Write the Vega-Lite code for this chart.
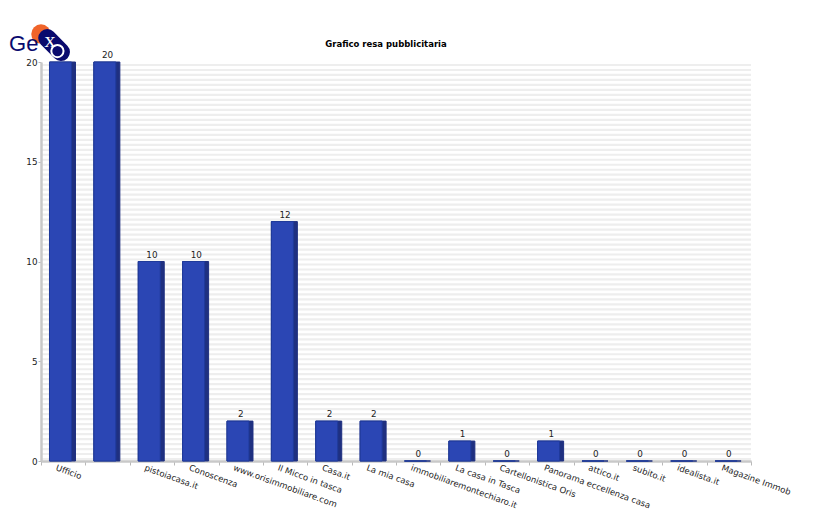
{
"$schema":"https://vega.github.io/schema/vega-lite/v6.json",
"width":710,"height":399,
"autosize":"none",
"padding":{"left":41,"top":62,"right":80,"bottom":64},
"background":"white",
"config":{"view":{"stroke":null},"font":"DejaVu Sans"},
"title":{"text":"Grafico resa pubblicitaria","font":"DejaVu Sans","fontSize":8.5,"fontWeight":"bold","color":"#000000","anchor":"middle","dx":-10,"offset":-46},
"datasets":{
"rows":[
{"source":"Ufficio","value":20},{"source":" ","value":20},{"source":"pistoiacasa.it","value":10},{"source":"Conoscenza","value":10},{"source":"www.orisimmobiliare.com","value":2},{"source":"Il Micco in tasca","value":12},{"source":"Casa.it","value":2},{"source":"La mia casa","value":2},{"source":"immobiliaremontechiaro.it","value":0},{"source":"La casa in Tasca","value":1},{"source":"Cartellonistica Oris","value":0},{"source":"Panorama eccellenza casa","value":1},{"source":"attico.it","value":0},{"source":"subito.it","value":0},{"source":"idealista.it","value":0},{"source":"Magazine Immob","value":0}],
"stripes":[{"s":0.1},{"s":0.35},{"s":0.6},{"s":0.85},{"s":1.1},{"s":1.35},{"s":1.6},{"s":1.85},{"s":2.1},{"s":2.35},{"s":2.6},{"s":2.85},{"s":3.1},{"s":3.35},{"s":3.6},{"s":3.85},{"s":4.1},{"s":4.35},{"s":4.6},{"s":4.85},{"s":5.1},{"s":5.35},{"s":5.6},{"s":5.85},{"s":6.1},{"s":6.35},{"s":6.6},{"s":6.85},{"s":7.1},{"s":7.35},{"s":7.6},{"s":7.85},{"s":8.1},{"s":8.35},{"s":8.6},{"s":8.85},{"s":9.1},{"s":9.35},{"s":9.6},{"s":9.85},{"s":10.1},{"s":10.35},{"s":10.6},{"s":10.85},{"s":11.1},{"s":11.35},{"s":11.6},{"s":11.85},{"s":12.1},{"s":12.35},{"s":12.6},{"s":12.85},{"s":13.1},{"s":13.35},{"s":13.6},{"s":13.85},{"s":14.1},{"s":14.35},{"s":14.6},{"s":14.85},{"s":15.1},{"s":15.35},{"s":15.6},{"s":15.85},{"s":16.1},{"s":16.35},{"s":16.6},{"s":16.85},{"s":17.1},{"s":17.35},{"s":17.6},{"s":17.85},{"s":18.1},{"s":18.35},{"s":18.6},{"s":18.85},{"s":19.1},{"s":19.35},{"s":19.6},{"s":19.85}],
"logoLine":[{"u":0.14,"h":21.2},{"u":0.45,"h":20.5}]
},
"resolve":{"scale":{"x":"independent","y":"independent"},"axis":{"x":"independent","y":"independent"}},
"layer":[
{"layer":[
{"data":{"name":"stripes"},"mark":{"type":"rule","color":"#eeeeee","strokeWidth":2.2},
 "encoding":{"y":{"field":"s","type":"quantitative","scale":{"domain":[0,20],"nice":false},"axis":{"title":null}}}},
{"data":{"name":"rows"},"mark":{"type":"bar","size":26,"color":"#1f3080","xOffset":-0.7,"stroke":"#1f3080","strokeWidth":1},
 "encoding":{
  "x":{"field":"source","type":"nominal","sort":null,"scale":{"paddingInner":0,"paddingOuter":0},
   "axis":{"title":null,"labelAngle":20,"labelAlign":"left","labelBaseline":"top","labelOffset":-6,"labelPadding":-2,"labelFontSize":8.5,"labelColor":"#222222","labelFont":"DejaVu Sans","labelLimit":300,"labelOverlap":false,"domainColor":"#c8c8c8","domainWidth":2.5,"tickColor":"#b8b8b8","tickSize":4,"tickBand":"extent","grid":false}},
  "y":{"field":"value","type":"quantitative","axis":{"title":null,"values":[0,5,10,15,20],"orient":"left","zindex":1,"labelFontSize":8.8,"labelColor":"#222222","labelFont":"DejaVu Sans","labelPadding":1,"domainColor":"#c8c8c8","domainWidth":2.5,"tickColor":"#b8b8b8","tickSize":3,"grid":false}}}},
{"data":{"name":"rows"},"mark":{"type":"bar","size":22,"color":"#2b46b4","xOffset":-2.7,"stroke":"#1f3a9a","strokeWidth":1},
 "encoding":{"x":{"field":"source","type":"nominal","sort":null},"y":{"field":"value","type":"quantitative","axis":{"title":null}}}},
{"data":{"name":"rows"},"mark":{"type":"text","dy":-7,"fontSize":8.8,"color":"#222222","font":"DejaVu Sans"},
 "encoding":{"x":{"field":"source","type":"nominal","sort":null},"y":{"field":"value","type":"quantitative","axis":{"title":null}},"text":{"field":"value","type":"quantitative"}}}
]},
{"layer":[
{"data":{"values":[{"u":0,"h":21.4}]},"mark":{"type":"point","filled":true,"size":380,"color":"#f0642a","opacity":1,"clip":false},
 "encoding":{"x":{"field":"u","type":"quantitative","scale":{"domain":[0,16],"nice":false,"zero":false},"axis":null},"y":{"field":"h","type":"quantitative","scale":{"domain":[0,20],"nice":false},"axis":null}}},
{"data":{"name":"logoLine"},"mark":{"type":"line","color":"#0a0a6e","strokeWidth":18,"strokeCap":"round","clip":false},
 "encoding":{"x":{"field":"u","type":"quantitative","axis":null},"y":{"field":"h","type":"quantitative","axis":null}}},
{"data":{"values":[{"u":0.37,"h":20.55}]},"mark":{"type":"point","filled":false,"size":150,"color":"#ffffff","strokeWidth":2,"opacity":1,"clip":false},
 "encoding":{"x":{"field":"u","type":"quantitative","axis":null},"y":{"field":"h","type":"quantitative","axis":null}}},
{"data":{"values":[{"u":0.2,"h":21.1,"t":"x"}]},"mark":{"type":"text","fontSize":22,"color":"#ffffff","font":"Liberation Serif","clip":false},
 "encoding":{"x":{"field":"u","type":"quantitative","axis":null},"y":{"field":"h","type":"quantitative","axis":null},"text":{"field":"t"}}},
{"data":{"values":[{"u":-0.39,"h":20.88,"t":"Ge"}]},"mark":{"type":"text","fontSize":22,"color":"#0a0a6e","font":"Liberation Sans","clip":false},
 "encoding":{"x":{"field":"u","type":"quantitative","axis":null},"y":{"field":"h","type":"quantitative","axis":null},"text":{"field":"t"}}}
]}
]
}
